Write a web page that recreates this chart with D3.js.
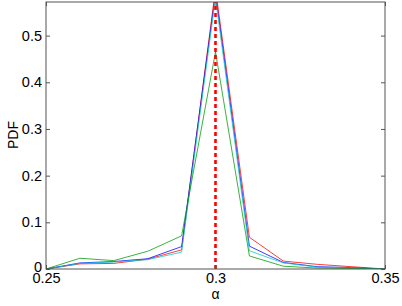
<!DOCTYPE html>
<html><head><meta charset="utf-8">
<script src="https://cdn.jsdelivr.net/npm/d3@7"></script>
<style>html,body{margin:0;padding:0;background:#fff;}svg{display:block;font-family:"Liberation Sans",Arial,sans-serif;}</style>
</head><body>
<script>
const alphaValues = [0.25,0.26,0.27,0.28,0.29,0.30,0.31,0.32,0.33,0.34,0.35];
const redValues   = [0,0.011,0.012,0.021,0.041,0.60,0.068,0.017,0.010,0.005,0];
const blueValues  = [0,0.013,0.016,0.022,0.048,0.59,0.049,0.014,0.005,0.003,0];
const cyanValues  = [0,0.012,0.015,0.020,0.036,0.58,0.039,0.013,0.004,0.002,0];
const greenValues = [0,0.023,0.018,0.038,0.071,0.465,0.028,0.006,0.002,0.001,0];
const seriesColors = ["#ff0000","#0000ff","#00cccc","#009900"];
const trueAlpha = 0.3;
const xTicks = [0.25,0.3,0.35];
const yTicks = [0,0.1,0.2,0.3,0.4,0.5];

const W=402,H=306, L=46, R=385, T=2, B=269;
const svg=d3.select("body").append("svg").attr("width",W).attr("height",H);
const x=d3.scaleLinear().domain([0.25,0.35]).range([L,R]);
const y=d3.scaleLinear().domain([0,0.572]).range([B,T]);

svg.append("defs").append("clipPath").attr("id","c").append("rect")
  .attr("x",L).attr("y",T).attr("width",R-L).attr("height",B-T);

const g=svg.append("g").attr("clip-path","url(#c)");
const line=d3.line().x((d,i)=>x(alphaValues[i])).y(d=>y(d));
[redValues,blueValues,cyanValues,greenValues].forEach((s,k)=>{
  g.append("path").attr("d",line(s)).attr("fill","none")
   .attr("stroke",seriesColors[k]).attr("stroke-width",0.9).attr("opacity",0.85);
});
g.append("line").attr("x1",x(trueAlpha)).attr("x2",x(trueAlpha)).attr("y1",y(0)).attr("y2",y(0.572))
 .attr("stroke","#ff0000").attr("stroke-width",2.6).attr("stroke-dasharray","4,3");

svg.append("rect").attr("x",L).attr("y",T).attr("width",R-L).attr("height",B-T)
  .attr("fill","none").attr("stroke","#555").attr("stroke-width",1);

const ax=svg.append("g").attr("transform",`translate(0,${B})`)
 .call(d3.axisBottom(x).tickValues(xTicks).tickFormat(d3.format("")).tickSize(-4).tickPadding(4));
const ay=svg.append("g").attr("transform",`translate(${L},0)`)
 .call(d3.axisLeft(y).tickValues(yTicks).tickFormat(d=>d===0?"0":d3.format("")(d)).tickSize(-4).tickPadding(4));
const ayr=svg.append("g").attr("transform",`translate(${R},0)`)
 .call(d3.axisRight(y).tickValues(yTicks).tickSize(-4).tickFormat(""));
const axt=svg.append("g").attr("transform",`translate(0,${T})`)
 .call(d3.axisTop(x).tickValues(xTicks).tickSize(-4).tickFormat(""));
[ax,ay,ayr,axt].forEach(a=>{
  a.select(".domain").remove();
  a.selectAll("line").attr("stroke","#555");
  a.selectAll("text").attr("fill","#000").style("font-size","14.5px").style("font-family","'Liberation Sans',Arial,sans-serif");
});
ax.selectAll("text").attr("dy","0.71em");
ay.selectAll("text").filter(d=>d===0).attr("dy","0.2em");

svg.append("text").attr("x",x(0.3)).attr("y",299).attr("text-anchor","middle")
 .style("font-size","14px").text("α");
svg.append("text").attr("transform","translate(18,135) rotate(-90)").attr("text-anchor","middle")
 .style("font-size","14px").text("PDF");
</script>
</body></html>
